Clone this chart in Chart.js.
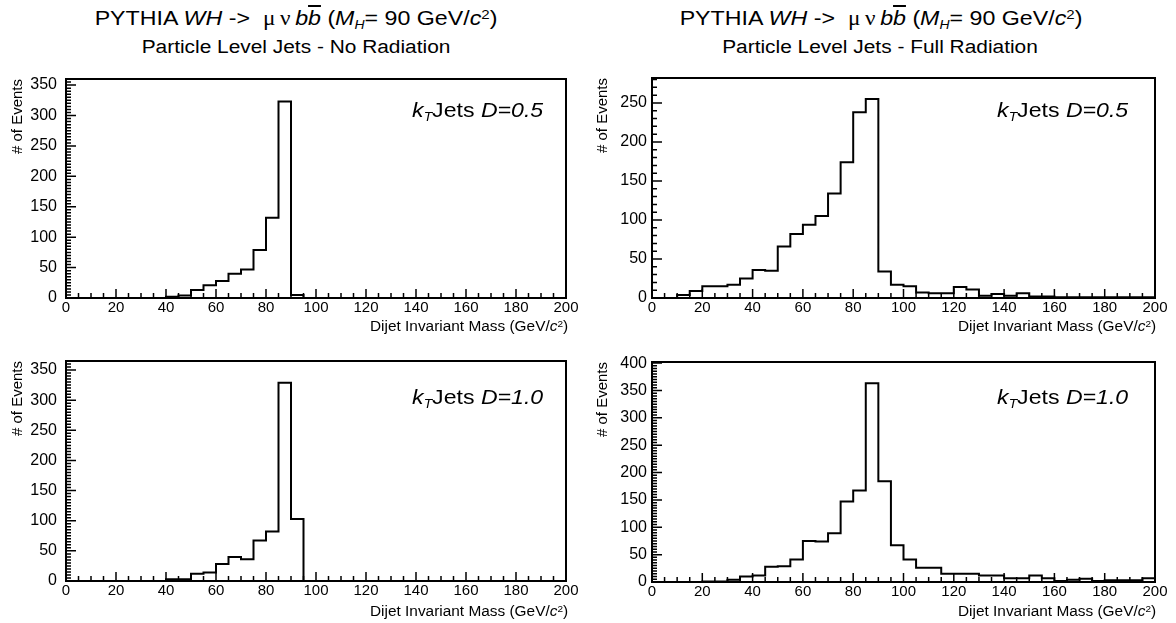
<!DOCTYPE html>
<html>
<head>
<meta charset="utf-8">
<script src="https://cdn.jsdelivr.net/npm/chart.js@4"></script>
<style>
html,body{margin:0;padding:0;background:#fff;}
body{width:1176px;height:623px;position:relative;overflow:hidden;font-family:"Liberation Sans",Arial,sans-serif;color:#000;}
canvas{position:absolute;}
.ov1{position:absolute;white-space:nowrap;z-index:2;}
.ttl{font-size:20px;line-height:20px;transform:translateX(-50%) scaleX(1.16);}
.subt{font-size:18px;line-height:18px;transform:translateX(-50%) scaleX(1.16);}
.kt{font-size:21px;line-height:22px;transform-origin:right center;transform:scaleX(1.1);}
.xt{font-size:14px;line-height:16px;transform-origin:right center;transform:scaleX(1.1);}
.sb{font-size:0.6em;position:relative;top:0.35em;}
.sp{font-size:0.65em;position:relative;top:-0.45em;}
.sym{font-family:"Liberation Serif","DejaVu Serif",serif;}
.ovl{text-decoration:overline;}
</style>
</head>
<body>
<div class="ov1 ttl" style="left:296px;top:8px">PYTHIA <i>WH</i> -&gt; &nbsp;<span class="sym">μ&thinsp;ν</span>&thinsp;<i>b</i><i class="ovl">b</i> (<i>M</i><span class="sb"><i>H</i></span>= 90 GeV/<i>c</i><span class="sp">2</span>)</div>
<div class="ov1 subt" style="left:296px;top:38px">Particle Level Jets - No Radiation</div>
<div class="ov1 ttl" style="left:881px;top:8px">PYTHIA <i>WH</i> -&gt; &nbsp;<span class="sym">μ&thinsp;ν</span>&thinsp;<i>b</i><i class="ovl">b</i> (<i>M</i><span class="sb"><i>H</i></span>= 90 GeV/<i>c</i><span class="sp">2</span>)</div>
<div class="ov1 subt" style="left:880px;top:38px">Particle Level Jets - Full Radiation</div>

<div class="ov1 kt" style="right:633px;top:99px"><i>k</i><span class="sb"><i>T</i></span>Jets <i>D=0.5</i></div>
<div class="ov1 kt" style="right:48px;top:99px"><i>k</i><span class="sb"><i>T</i></span>Jets <i>D=0.5</i></div>
<div class="ov1 kt" style="right:633px;top:386px"><i>k</i><span class="sb"><i>T</i></span>Jets <i>D=1.0</i></div>
<div class="ov1 kt" style="right:48px;top:386px"><i>k</i><span class="sb"><i>T</i></span>Jets <i>D=1.0</i></div>

<div class="ov1 xt" style="right:608px;top:318px">Dijet Invariant Mass (GeV/<i>c</i><span class="sp">2</span>)</div>
<div class="ov1 xt" style="right:20px;top:318px">Dijet Invariant Mass (GeV/<i>c</i><span class="sp">2</span>)</div>
<div class="ov1 xt" style="right:608px;top:603px">Dijet Invariant Mass (GeV/<i>c</i><span class="sp">2</span>)</div>
<div class="ov1 xt" style="right:20px;top:603px">Dijet Invariant Mass (GeV/<i>c</i><span class="sp">2</span>)</div>

<script>
// ---- data ----
const binEdges = [0,5,10,15,20,25,30,35,40,45,50,55,60,65,70,75,80,85,90,95,100,
                  105,110,115,120,125,130,135,140,145,150,155,160,165,170,175,180,185,190,195,200];

// Top-left: No radiation, D=0.5
const noRadD05 = [0,0,0,0,0,0,0,0, 2,4,13,21,28,40,47,79,132,323, 5,0,
                  0,0,0,0,0,0,0,0,0,0, 0,0,0,0,0,0,0,0,0,0];
// Top-right: Full radiation, D=0.5
const fullRadD05 = [0,0,4,9,15,15,17,25,36,35, 66,82,94,105,134,174,238,255,34,17,
                    15,7,6,6,14,11,3,5,3,6, 2,2,1,1,1,1,1,1,1,1];
// Bottom-left: No radiation, D=1.0
const noRadD10 = [0,0,0,0,0,0,0,0, 3,3,12,14,28,40,36,67,82,329,103,0,
                  0,0,0,0,0,0,0,0,0,0, 0,0,0,0,0,0,0,0,0,0];
// Bottom-right: Full radiation, D=1.0
const fullRadD10 = [0,0,0,0,1,1,4,10,12,28, 29,41,75,74,89,147,167,363,184,67,
                    41,26,26,15,15,15,12,12,7,7, 12,7,2,4,6,2,3,3,3,7];

const xTicks = [0,20,40,60,80,100,120,140,160,180,200];
const yTicks350 = [0,50,100,150,200,250,300,350];
const yTicks250 = [0,50,100,150,200,250];
const yTicks400 = [0,50,100,150,200,250,300,350,400];

const xTitle = 'Dijet Invariant Mass (GeV/c²)';
const yTitle = '# of Events';

// ---- layout ----
const FONT = "'Liberation Sans', Arial, sans-serif";
Chart.defaults.font.family = FONT;
Chart.defaults.color = '#000';

const frameTicks = {
  id: 'frameTicks',
  afterDatasetsDraw(chart, args, opts) {
    const {ctx, chartArea: a, scales: {x, y}} = chart;
    ctx.save();
    ctx.strokeStyle = '#000';
    ctx.lineWidth = 1.5;
    ctx.beginPath();
    for (let v = x.min; v <= x.max + 1e-6; v += opts.xMinor) {
      const px = x.getPixelForValue(v);
      const len = (Math.round(v) % opts.xMajor === 0) ? 9 : 5;
      ctx.moveTo(px, a.bottom); ctx.lineTo(px, a.bottom - len);
    }
    for (let v = y.min; v <= y.max + 1e-6; v += opts.yMinor) {
      const py = y.getPixelForValue(v);
      const len = (Math.round(v) % opts.yMajor === 0) ? 10 : 5;
      ctx.moveTo(a.left, py); ctx.lineTo(a.left + len, py);
    }
    ctx.stroke();
    ctx.lineWidth = 2;
    ctx.strokeRect(a.left, a.top, a.right - a.left, a.bottom - a.top);
    ctx.restore();
  }
};

const panels = [
  {values: noRadD05,   yMax: 360, yTicks: yTicks350, yMinor: 5,  box: [0, 60, 590, 262],   area: [66, 79, 566, 298],   yPad: 9, tPad: 9},
  {values: fullRadD05, yMax: 282, yTicks: yTicks250, yMinor: 10, box: [590, 60, 586, 262], area: [652, 78, 1155, 298], yPad: 5, tPad: 3.5},
  {values: noRadD10,   yMax: 365, yTicks: yTicks350, yMinor: 5,  box: [0, 340, 590, 265],  area: [66, 361, 566, 581],  yPad: 9, tPad: 9},
  {values: fullRadD10, yMax: 402, yTicks: yTicks400, yMinor: 5,  box: [590, 340, 586, 265],area: [652, 362, 1155, 582], yPad: 5, tPad: 3.5}
];

panels.forEach(p => {
  const [cx, cy, cw, ch] = p.box;
  const [L, T, R, B] = p.area;
  const cv = document.createElement('canvas');
  cv.width = cw; cv.height = ch;
  cv.style.left = cx + 'px'; cv.style.top = cy + 'px';
  cv.style.width = cw + 'px'; cv.style.height = ch + 'px';
  document.body.appendChild(cv);

  const pts = p.values.map((v, i) => ({x: binEdges[i], y: v}));
  pts.push({x: binEdges[binEdges.length - 1], y: p.values[p.values.length - 1]});

  new Chart(cv, {
    type: 'line',
    data: {datasets: [{
      data: pts, borderColor: '#000', borderWidth: 2, pointRadius: 0,
      stepped: true, fill: false, tension: 0
    }]},
    options: {
      responsive: false, animation: false, devicePixelRatio: 1,
      layout: {padding: {left: 0, top: T - cy, right: cx + cw - R, bottom: 0}},
      plugins: {
        legend: {display: false}, tooltip: {enabled: false},
        frameTicks: {xMinor: 5, xMajor: 20, yMinor: p.yMinor, yMajor: 50}
      },
      scales: {
        x: {
          type: 'linear', min: binEdges[0], max: binEdges[binEdges.length - 1],
          grid: {display: false, drawTicks: false}, border: {display: false},
          afterBuildTicks: s => { s.ticks = xTicks.map(v => ({value: v})); },
          afterFit: s => { s.height = cy + ch - B; },
          ticks: {color: '#000', font: {size: 15}, padding: 1, maxRotation: 0, autoSkip: false}
        },
        y: {
          type: 'linear', min: 0, max: p.yMax,
          grid: {display: false, drawTicks: false}, border: {display: false},
          afterBuildTicks: s => { s.ticks = p.yTicks.map(v => ({value: v})); },
          afterFit: s => { s.width = L - cx; },
          ticks: {color: '#000', font: {size: 16}, padding: p.yPad, autoSkip: false},
          title: {display: true, text: yTitle, align: 'end', color: '#000',
                  font: {size: 15}, padding: {top: p.tPad, bottom: 0}}
        }
      }
    },
    plugins: [frameTicks]
  });
});
</script>
</body>
</html>
